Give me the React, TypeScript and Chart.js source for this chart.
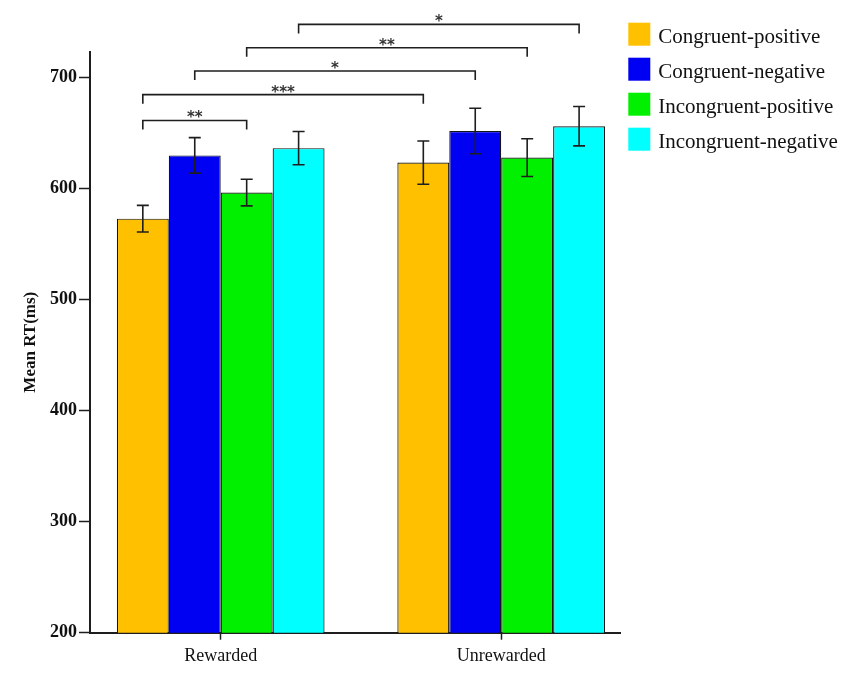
import React, { useEffect, useRef } from 'react';
import { Chart, registerables } from 'chart.js';

Chart.register(...registerables);

// ---- data ----
const groupLabels = ['Rewarded', 'Unrewarded'];
const groupPositions = [1, 2];
const seriesNames = ['Congruent-positive', 'Congruent-negative', 'Incongruent-positive', 'Incongruent-negative'];
const seriesColors = ['#FFC000', '#0000F2', '#00F000', '#00FFFF'];

const congruentPositive = [573, 623.5];
const congruentNegative = [630, 652];
const incongruentPositive = [596.5, 628];
const incongruentNegative = [636.5, 656.3];

const congruentPositiveErr = [12, 19.5];
const congruentNegativeErr = [16, 20.5];
const incongruentPositiveErr = [12, 17];
const incongruentNegativeErr = [15, 17.7];

const yTickValues = [200, 300, 400, 500, 600, 700];
const yMin = 200;
const yMax = 723.4;
const xMin = 0.534;
const xMax = 2.426;

// significance brackets: [group, series] -> [group, series]
const bracketStartGroup = [0, 0, 0, 0, 0];
const bracketStartSeries = [0, 0, 1, 2, 3];
const bracketEndGroup = [0, 1, 1, 1, 1];
const bracketEndSeries = [2, 0, 1, 2, 3];
const bracketLevels = [661.4, 684.7, 706, 727, 748];
const bracketLabels = ['**', '***', '*', '**', '*'];

const SERIF = '"Liberation Serif", "Times New Roman", serif';
const INK = '#1e1e1e';

export default function App() {
  const ref = useRef<HTMLCanvasElement>(null);

  useEffect(() => {
    if (!ref.current) return;
    const seriesValues = [congruentPositive, congruentNegative, incongruentPositive, incongruentNegative];
    const seriesErrors = [congruentPositiveErr, congruentNegativeErr, incongruentPositiveErr, incongruentNegativeErr];

    const errorBars = {
      id: 'errorBars',
      afterDatasetsDraw(chart: any) {
        const ctx = chart.ctx;
        const y = chart.scales.y;
        ctx.save();
        ctx.strokeStyle = INK;
        ctx.lineWidth = 1.6;
        seriesValues.forEach((vals, s) => {
          const meta = chart.getDatasetMeta(s);
          meta.data.forEach((el: any, g: number) => {
            const v = vals[g];
            const e = seriesErrors[s][g];
            const yt = y.getPixelForValue(v + e);
            const yb = y.getPixelForValue(v - e);
            ctx.beginPath();
            ctx.moveTo(el.x, yt);
            ctx.lineTo(el.x, yb);
            ctx.moveTo(el.x - 6, yt);
            ctx.lineTo(el.x + 6, yt);
            ctx.moveTo(el.x - 6, yb);
            ctx.lineTo(el.x + 6, yb);
            ctx.stroke();
          });
        });
        ctx.restore();
      },
    };

    const brackets = {
      id: 'brackets',
      afterDraw(chart: any) {
        const ctx = chart.ctx;
        const y = chart.scales.y;
        ctx.save();
        ctx.strokeStyle = INK;
        ctx.lineWidth = 1.6;
        ctx.fillStyle = '#333';
        ctx.font = 'bold 15px "DejaVu Sans", sans-serif';
        ctx.textAlign = 'center';
        ctx.textBaseline = 'middle';
        bracketLevels.forEach((lvl, i) => {
          const a = chart.getDatasetMeta(bracketStartSeries[i]).data[bracketStartGroup[i]];
          const b = chart.getDatasetMeta(bracketEndSeries[i]).data[bracketEndGroup[i]];
          const yy = y.getPixelForValue(lvl);
          ctx.beginPath();
          ctx.moveTo(a.x, yy + 9);
          ctx.lineTo(a.x, yy);
          ctx.lineTo(b.x, yy);
          ctx.lineTo(b.x, yy + 9);
          ctx.stroke();
          ctx.fillText(bracketLabels[i], (a.x + b.x) / 2, yy - 2);
        });
        ctx.restore();
      },
    };

    const customLegend = {
      id: 'customLegend',
      afterDraw(chart: any) {
        const ctx = chart.ctx;
        const area = chart.chartArea;
        const left = area.right + 7.6;
        const top = area.top - 29;
        ctx.save();
        ctx.font = '21px ' + SERIF;
        ctx.textAlign = 'left';
        ctx.textBaseline = 'alphabetic';
        chart.data.datasets.forEach((ds: any, i: number) => {
          const t = top + i * 35;
          ctx.fillStyle = ds.backgroundColor;
          ctx.fillRect(left, t, 22, 23);
          ctx.fillStyle = '#111';
          ctx.fillText(ds.label, left + 30, t + 20.5);
        });
        ctx.restore();
      },
    };

    const chart = new Chart(ref.current, {
      type: 'bar',
      data: {
        datasets: seriesNames.map((name, s) => ({
          label: name,
          data: seriesValues[s].map((v, g) => ({ x: groupPositions[g], y: v })),
          backgroundColor: seriesColors[s],
          borderColor: '#151515',
          borderWidth: 1.2,
          categoryPercentage: 0.7405,
          barPercentage: 1,
        })),
      },
      options: {
        responsive: true,
        maintainAspectRatio: false,
        animation: false,
        layout: { padding: { left: 0, right: 229.3, top: 51.7, bottom: 0 } },
        plugins: {
          legend: { display: false },
          tooltip: { enabled: false },
          title: { display: false },
        },
        scales: {
          x: {
            type: 'linear',
            min: xMin,
            max: xMax,
            offset: false,
            afterBuildTicks(scale: any) {
              scale.ticks = groupPositions.map((p) => ({ value: p }));
            },
            afterFit(scale: any) {
              scale.height = 44.3;
            },
            ticks: {
              callback: (v: any) => groupLabels[groupPositions.indexOf(Number(v))] ?? '',
              font: { family: SERIF, size: 18 },
              color: '#111',
              padding: 6,
              autoSkip: false,
              maxRotation: 0,
            },
            grid: {
              offset: false,
              drawOnChartArea: false,
              tickLength: 7,
              tickColor: INK,
              tickWidth: 1.5,
            },
            border: { color: INK, width: 2 },
          },
          y: {
            type: 'linear',
            min: yMin,
            max: yMax,
            afterBuildTicks(scale: any) {
              scale.ticks = yTickValues.map((v) => ({ value: v }));
            },
            afterFit(scale: any) {
              scale.width = 90;
            },
            ticks: {
              font: { family: SERIF, size: 18, weight: 'bold' },
              color: '#111',
              padding: 2,
            },
            grid: {
              drawOnChartArea: false,
              tickLength: 11,
              tickColor: INK,
              tickWidth: 1.5,
            },
            border: { color: INK, width: 2 },
            title: {
              display: true,
              text: 'Mean RT(ms)',
              font: { family: SERIF, size: 17, weight: 'bold' },
              color: '#111',
              padding: { top: 20.7, bottom: 0 },
            },
          },
        },
      },
      plugins: [errorBars, brackets, customLegend],
    });

    return () => chart.destroy();
  }, []);

  return (
    <div style={{ position: 'absolute', left: 0, top: 0, width: 850, height: 677, background: '#fff' }}>
      <canvas ref={ref} />
    </div>
  );
}
